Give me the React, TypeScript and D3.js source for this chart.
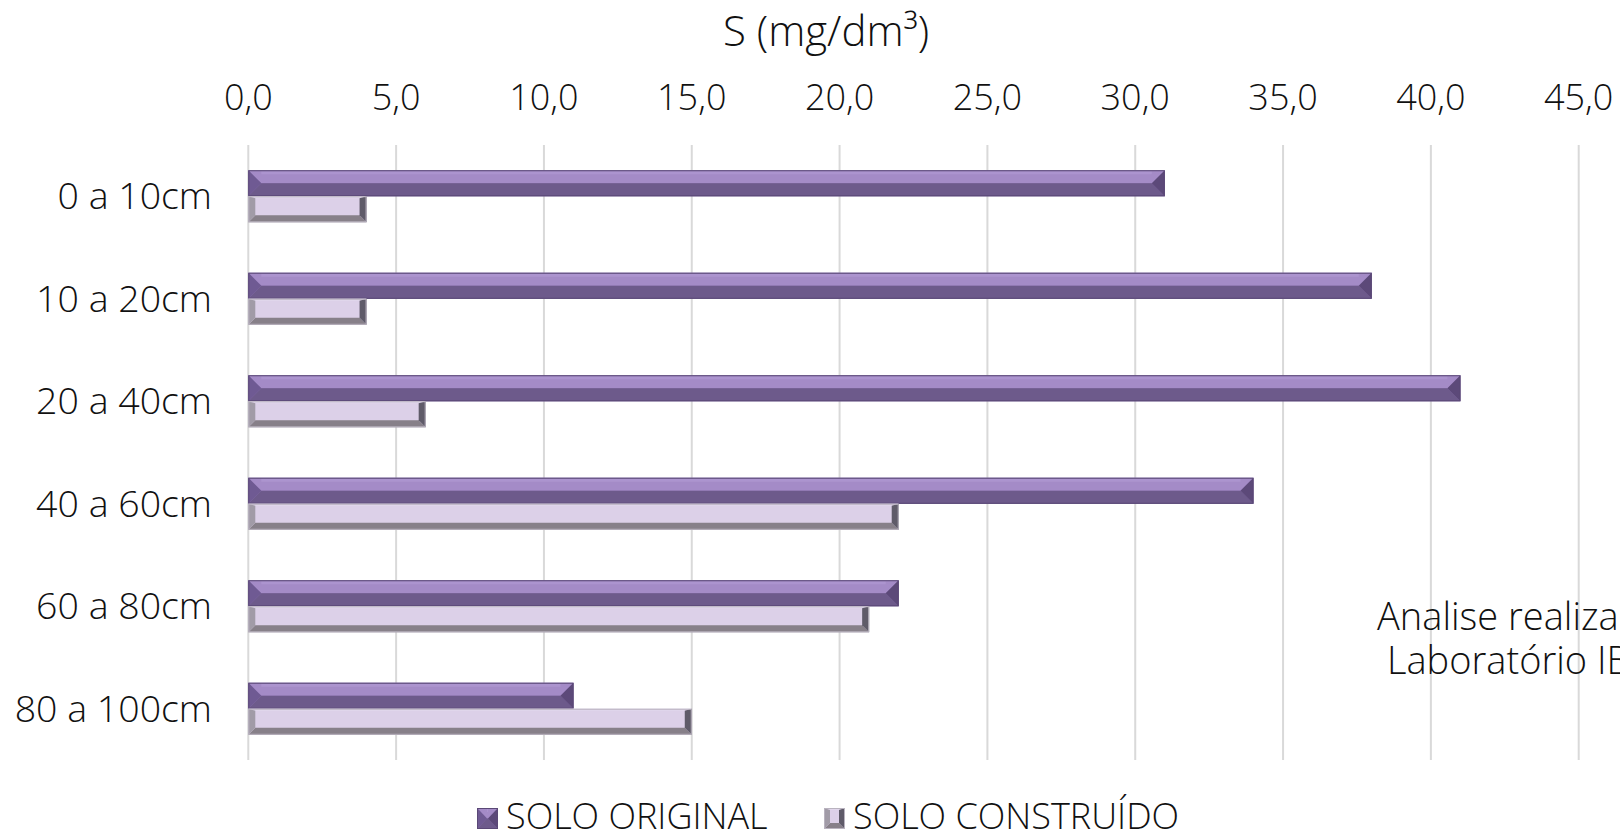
import React from "react";
import * as d3 from "d3";

// Sulfur content (mg/dm³) by soil depth
const depths = ["0 a 10cm", "10 a 20cm", "20 a 40cm", "40 a 60cm", "60 a 80cm", "80 a 100cm"];
const series = ["SOLO ORIGINAL", "SOLO CONSTRUÍDO"];
const soloOriginal = [31, 38, 41, 34, 22, 11];
const soloConstruido = [4, 4, 6, 22, 21, 15];
const xTicks = [0, 5, 10, 15, 20, 25, 30, 35, 40, 45];
const axisTitle = "S (mg/dm³)";
const noteLines = ["Analise realizada pelo", "Laboratório IBRA"];

const W = 1620;
const H = 835;
const FONT = "'Open Sans', 'Noto Sans', sans-serif";
const WEIGHT = 300;
const TEXT = "#111";

type Facets = { top: string; bottom: string; left: string; right: string; face: string; edge: string };

const originalStyle: Facets = {
  top: "#a48bc7",
  bottom: "#6d5a8b",
  left: "#6f5a93",
  right: "#5c4979",
  face: "#8c74ad",
  edge: "#5a4876",
};
const construidoStyle: Facets = {
  top: "#e1d7ec",
  bottom: "#878089",
  left: "#a19ba7",
  right: "#5f5b69",
  face: "#dcd0e8",
  edge: "#b9b3bf",
};

function pts(p: [number, number][]) {
  return p.map((q) => q.join(",")).join(" ");
}

// Bevelled bar: four facets around a flat face
function BevelBar({ x0, x1, y0, h, bevel, s, ridge }: { x0: number; x1: number; y0: number; h: number; bevel: number; s: Facets; ridge: boolean }) {
  const y1 = y0 + h;
  const b = Math.min(bevel, (x1 - x0) / 2);
  const bt = ridge ? h / 2 : bevel;
  const fy0 = y0 + (ridge ? h / 2 : 2);
  const fy1 = y1 - (ridge ? h / 2 : bevel);
  return (
    <g>
      <rect x={x0} y={y0} width={x1 - x0} height={h} fill={s.face} />
      <polygon points={pts([[x0, y0], [x1, y0], [x1 - b, fy0], [x0 + b, fy0]])} fill={s.top} />
      <polygon points={pts([[x0 + b, fy1], [x1 - b, fy1], [x1, y1], [x0, y1]])} fill={s.bottom} />
      <polygon points={pts([[x0, y0], [x0 + b, ridge ? y0 + bt : fy0], [x0 + b, ridge ? y0 + bt : fy1], [x0, y1]])} fill={s.left} />
      <polygon points={pts([[x1, y0], [x1, y1], [x1 - b, ridge ? y0 + bt : fy1], [x1 - b, ridge ? y0 + bt : fy0]])} fill={s.right} />
      {ridge && (
        <rect x={x0 + b} y={y0 + 1} width={Math.max(0, x1 - x0 - 2 * b)} height={3} fill="#b29bd3" opacity={0.6} />
      )}
      <rect x={x0 + 0.5} y={y0 + 0.5} width={x1 - x0 - 1} height={h - 1} fill="none" stroke={s.edge} strokeWidth={1} />
    </g>
  );
}

export default function App() {
  const x = d3.scaleLinear().domain([0, 45]).range([248.3, 1578.7]);
  const gap = 1 - 52 / 102.5;
  const y = d3.scaleBand<string>().domain(depths).range([145, 760]).paddingInner(gap).paddingOuter(gap / 2);
  const ySub = d3.scaleBand<string>().domain(series).range([0, y.bandwidth()]);
  const values = [soloOriginal, soloConstruido];
  const styles = [originalStyle, construidoStyle];

  const legendItems = [
    { label: series[0], mx: 477, tx: 506, s: originalStyle },
    { label: series[1], mx: 824, tx: 853, s: construidoStyle },
  ];

  return (
    <svg width={W} height={H} style={{ position: "fixed", left: 0, top: 0, background: "#fff", overflow: "hidden" }} fontFamily={FONT} fontWeight={WEIGHT}>
      <rect width={W} height={H} fill="#fff" />
      <text x={826} y={46} textAnchor="middle" fontSize={42} fill={TEXT}>{axisTitle}</text>

      {xTicks.map((t) => (
        <g key={t}>
          <line x1={x(t)} x2={x(t)} y1={145} y2={760} stroke="#d9d9d9" strokeWidth={2} />
          <text x={x(t)} y={110} textAnchor="middle" fontSize={36} fill={TEXT}>
            {d3.format(".1f")(t).replace(".", ",")}
          </text>
        </g>
      ))}

      {depths.map((d, i) => (
        <g key={d}>
          <text x={212} y={(y(d) as number) + y.bandwidth() / 2} dy="0.35em" textAnchor="end" fontSize={37.5} fill={TEXT}>
            {d}
          </text>
          {series.map((sName, k) => (
            <BevelBar
              key={sName}
              x0={x(0)}
              x1={x(values[k][i])}
              y0={(y(d) as number) + (ySub(sName) as number)}
              h={ySub.bandwidth()}
              bevel={k === 0 ? 13 : 7}
              s={styles[k]}
              ridge={k === 0}
            />
          ))}
        </g>
      ))}

      {noteLines.map((l, i) => (
        <text key={l} x={i === 0 ? 1377 : 1387} y={630 + i * 44} fontSize={38} fill={TEXT}>{l}</text>
      ))}

      {legendItems.map((it) => (
        <g key={it.label}>
          <BevelBar x0={it.mx} x1={it.mx + 21} y0={808} h={21} bevel={it.s === originalStyle ? 10 : 6} s={it.s} ridge={it.s === originalStyle} />
          <text x={it.tx} y={829} fontSize={36} fill={TEXT}>{it.label}</text>
        </g>
      ))}
    </svg>
  );
}
